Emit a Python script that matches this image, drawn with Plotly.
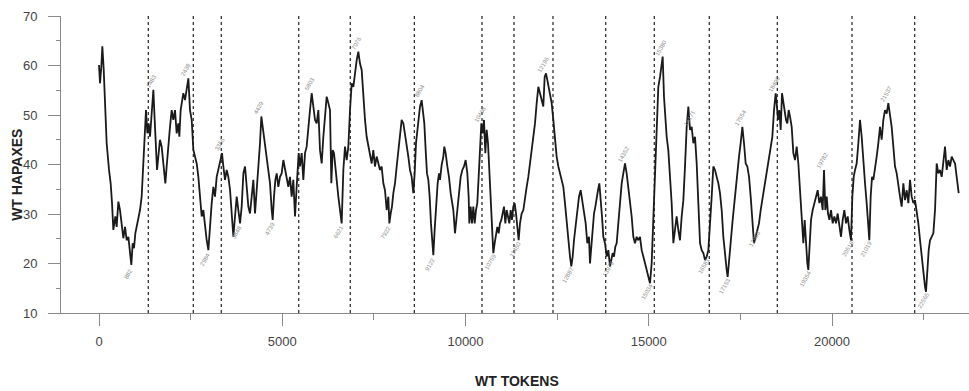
import plotly.graph_objects as go

# ---- data ----
tokens = [0, 27, 64, 91, 127, 164, 209, 273, 318, 355, 391, 418, 446, 482, 528, 573, 618, 664, 710, 755,
          801, 846, 882, 919, 955, 991, 1046, 1119, 1164, 1210, 1255, 1282, 1319, 1355, 1392, 1437, 1483, 1519, 1555, 1583,
          1619, 1664, 1710, 1755, 1810, 1846, 1892, 1937, 1983, 2028, 2074, 2119, 2165, 2192, 2228, 2265, 2301, 2347, 2392, 2438,
          2483, 2529, 2574, 2620, 2665, 2711, 2756, 2802, 2847, 2893, 2938, 2984, 3029, 3075, 3120, 3165, 3211, 3256, 3302, 3356,
          3393, 3438, 3484, 3529, 3575, 3620, 3666, 3711, 3757, 3802, 3848, 3893, 3939, 3984, 4029, 4075, 4120, 4166, 4211, 4257,
          4302, 4348, 4393, 4429, 4466, 4502, 4539, 4575, 4620, 4666, 4712, 4739, 4775, 4812, 4848, 4893, 4939, 4984, 5030, 5075,
          5120, 5166, 5211, 5257, 5302, 5348, 5393, 5448, 5484, 5530, 5575, 5621, 5666, 5712, 5757, 5803, 5848, 5894, 5939, 5985,
          6030, 6076, 6121, 6167, 6212, 6258, 6303, 6339, 6376, 6412, 6449, 6485, 6530, 6576, 6621, 6667, 6712, 6758, 6803, 6849,
          6894, 6940, 6985, 7031, 7076, 7121, 7167, 7212, 7258, 7303, 7349, 7394, 7440, 7485, 7530, 7576, 7621, 7667, 7712, 7758,
          7803, 7849, 7894, 7922, 7958, 7994, 8031, 8076, 8122, 8167, 8213, 8258, 8304, 8349, 8394, 8440, 8485, 8531, 8576, 8613,
          8649, 8685, 8722, 8758, 8804, 8849, 8876, 8913, 8949, 8986, 9022, 9058, 9095, 9122, 9158, 9195, 9240, 9277, 9304, 9349,
          9395, 9422, 9458, 9504, 9549, 9595, 9631, 9668, 9713, 9750, 9786, 9831, 9868, 9913, 9959, 10004, 10050, 10086, 10104, 10141,
          10177, 10213, 10250, 10286, 10322, 10359, 10395, 10432, 10468, 10504, 10541, 10577, 10614, 10650, 10686, 10723, 10759, 10796, 10832, 10868,
          10905, 10941, 10977, 11014, 11050, 11087, 11123, 11159, 11196, 11232, 11268, 11305, 11341, 11378, 11414, 11450, 11487, 11532, 11578, 11623,
          11669, 11714, 11760, 11805, 11851, 11896, 11942, 11987, 12032, 12078, 12123, 12160, 12196, 12232, 12269, 12305, 12351, 12396, 12441, 12487,
          12533, 12578, 12623, 12669, 12714, 12760, 12805, 12851, 12887, 12924, 12960, 13006, 13051, 13097, 13142, 13188, 13233, 13279, 13324, 13370,
          13397, 13433, 13470, 13506, 13543, 13579, 13615, 13652, 13688, 13724, 13761, 13806, 13852, 13897, 13943, 13979, 14015, 14052, 14088, 14124,
          14170, 14215, 14261, 14306, 14352, 14397, 14443, 14488, 14534, 14579, 14625, 14670, 14716, 14761, 14807, 14852, 14897, 14943, 14988, 15034,
          15079, 15125, 15170, 15216, 15261, 15307, 15343, 15380, 15416, 15452, 15489, 15534, 15580, 15625, 15671, 15716, 15761, 15807, 15852, 15898,
          15944, 15989, 16035, 16080, 16126, 16171, 16217, 16262, 16308, 16353, 16399, 16444, 16490, 16535, 16581, 16626, 16671, 16717, 16762, 16808,
          16853, 16899, 16944, 16990, 17035, 17080, 17126, 17153, 17190, 17235, 17281, 17326, 17372, 17417, 17463, 17508, 17554, 17599, 17645, 17690,
          17736, 17781, 17826, 17872, 17917, 17963, 18008, 18054, 18099, 18145, 18190, 18236, 18281, 18327, 18372, 18418, 18463, 18490, 18527, 18563,
          18600, 18636, 18672, 18709, 18745, 18781, 18818, 18854, 18900, 18945, 18991, 19036, 19082, 19127, 19173, 19218, 19254, 19291, 19327, 19354,
          19391, 19427, 19473, 19518, 19564, 19609, 19655, 19700, 19746, 19782, 19818, 19855, 19891, 19928, 19973, 20019, 20064, 20110, 20155, 20201,
          20246, 20292, 20337, 20383, 20428, 20473, 20519, 20555, 20592, 20628, 20673, 20719, 20764, 20810, 20855, 20901, 20946, 20992, 21019, 21055,
          21092, 21128, 21173, 21219, 21264, 21310, 21355, 21401, 21446, 21492, 21537, 21583, 21628, 21674, 21719, 21765, 21810, 21856, 21901, 21947,
          21992, 22038, 22083, 22129, 22174, 22220, 22265, 22311, 22356, 22402, 22447, 22493, 22538, 22565, 22602, 22638, 22675, 22720, 22765, 22811,
          22856, 22902, 22947, 22993, 23038, 23084, 23129, 23175, 23220, 23266, 23311, 23357, 23402, 23457]

hapaxes = [60.1, 56.4, 59.8, 63.9, 59.4, 51.0, 44.3, 38.9, 36.2, 32.2, 26.8, 28.1, 29.5, 27.4, 32.5, 30.8, 28.1, 25.1, 27.4, 24.7,
           25.4, 22.7, 19.7, 24.1, 23.1, 26.1, 28.1, 30.8, 33.5, 40.9, 49.0, 51.0, 46.3, 48.3, 45.6, 51.0, 55.1, 49.0, 43.0, 38.9,
           41.6, 45.0, 43.6, 39.6, 36.2, 39.6, 44.3, 47.6, 51.0, 49.0, 51.0, 46.3, 48.3, 45.6, 51.0, 52.4, 54.4, 53.0, 55.7, 57.4,
           51.0, 49.0, 43.0, 41.6, 40.2, 37.5, 33.5, 29.5, 30.8, 27.4, 24.7, 22.7, 28.1, 32.2, 35.5, 33.5, 37.5, 38.9, 40.9, 42.3,
           39.6, 36.9, 38.9, 37.5, 34.9, 30.8, 25.4, 29.5, 33.5, 30.8, 28.1, 31.5, 38.2, 39.6, 35.5, 31.5, 30.1, 33.5, 36.9, 30.1,
           34.8, 38.9, 44.3, 49.7, 47.6, 46.3, 43.6, 42.3, 39.6, 36.2, 30.8, 28.8, 33.5, 36.9, 38.2, 35.5, 37.5, 38.2, 40.9, 38.9,
           37.5, 35.5, 37.5, 33.5, 36.9, 29.5, 35.5, 42.3, 39.6, 42.3, 36.9, 42.3, 43.6, 48.3, 51.0, 54.4, 51.0, 49.0, 48.3, 51.0,
           42.9, 40.2, 45.6, 50.3, 53.7, 52.4, 51.0, 36.2, 42.9, 42.3, 38.9, 36.9, 33.5, 30.8, 28.1, 38.9, 43.6, 40.9, 43.6, 51.0,
           56.4, 55.7, 59.1, 61.1, 62.8, 60.4, 59.1, 53.7, 49.0, 45.6, 43.6, 42.3, 40.2, 42.9, 39.6, 41.6, 40.2, 38.9, 39.6, 36.2,
           34.8, 30.8, 33.5, 28.1, 30.1, 31.5, 34.2, 36.2, 39.6, 42.9, 47.0, 49.0, 48.3, 46.3, 43.6, 41.6, 38.9, 37.5, 34.2, 38.2,
           44.3, 47.0, 49.7, 51.7, 53.0, 50.3, 48.3, 42.9, 38.2, 36.9, 33.5, 28.1, 24.1, 21.7, 26.8, 32.2, 36.2, 38.2, 36.9, 39.9,
           41.6, 43.6, 42.3, 39.6, 37.5, 34.2, 32.8, 30.8, 26.1, 28.8, 32.8, 34.8, 37.5, 38.9, 39.6, 40.9, 38.2, 33.5, 28.1, 31.5,
           28.1, 31.5, 28.1, 30.8, 32.2, 37.5, 44.3, 48.3, 46.3, 49.0, 42.3, 47.0, 44.3, 38.2, 32.2, 25.4, 22.1, 24.1, 25.4, 27.4,
           26.1, 28.1, 28.8, 30.1, 31.5, 28.1, 30.8, 29.5, 28.1, 30.8, 28.8, 31.5, 32.2, 30.1, 27.4, 24.7, 28.1, 30.1, 30.8, 33.5,
           35.5, 37.5, 40.2, 42.9, 45.0, 48.3, 52.4, 55.7, 54.4, 53.0, 51.7, 57.7, 58.4, 57.1, 55.7, 53.7, 52.4, 49.0, 44.3, 41.6,
           39.6, 38.2, 36.9, 35.5, 32.2, 28.1, 24.1, 21.4, 19.4, 21.4, 24.7, 28.1, 31.5, 33.5, 34.8, 32.8, 30.8, 28.1, 24.1, 25.4,
           20.0, 24.1, 27.4, 30.1, 31.5, 33.5, 34.8, 36.2, 33.5, 29.5, 25.4, 24.1, 21.4, 22.7, 19.4, 20.7, 22.1, 21.4, 23.4, 24.1,
           28.1, 33.5, 36.2, 38.2, 40.2, 38.2, 35.5, 32.2, 29.5, 25.4, 24.1, 25.4, 24.7, 25.4, 22.7, 21.4, 20.0, 18.7, 17.3, 16.0,
           20.0, 29.5, 40.9, 49.7, 55.7, 57.7, 60.4, 61.8, 53.7, 49.7, 45.6, 42.9, 37.5, 32.2, 24.1, 27.4, 29.5, 26.8, 24.7, 29.5,
           32.8, 39.6, 47.6, 51.7, 47.0, 47.6, 44.3, 45.6, 40.2, 32.2, 24.1, 22.7, 22.1, 20.7, 21.4, 22.7, 27.4, 33.5, 39.6, 38.9,
           37.5, 36.2, 34.2, 30.8, 25.4, 21.4, 18.7, 17.3, 20.0, 24.1, 28.1, 31.5, 35.5, 38.9, 41.6, 44.3, 47.6, 44.3, 40.2, 39.6,
           37.5, 33.5, 28.1, 24.1, 25.4, 26.8, 28.1, 30.8, 32.8, 34.8, 37.5, 38.9, 40.9, 42.9, 45.6, 51.0, 54.4, 52.4, 49.0, 51.0,
           47.0, 54.4, 52.4, 50.3, 49.0, 48.3, 51.0, 49.7, 47.6, 42.3, 40.9, 43.6, 40.2, 34.8, 30.1, 24.1, 28.8, 23.4, 20.0, 18.7,
           24.7, 28.8, 30.8, 32.2, 33.5, 34.8, 32.2, 33.5, 30.8, 38.9, 30.8, 33.5, 30.1, 28.8, 30.8, 28.1, 29.5, 28.1, 30.1, 27.4,
           25.4, 28.8, 30.8, 28.1, 29.5, 26.8, 24.7, 33.5, 37.5, 38.9, 40.2, 44.3, 49.0, 45.6, 40.2, 36.2, 32.2, 28.1, 24.7, 33.5,
           37.5, 36.9, 38.9, 41.6, 44.3, 47.6, 45.0, 49.0, 51.0, 50.3, 52.4, 50.3, 47.6, 43.6, 39.6, 38.2, 35.5, 33.5, 31.5, 36.2,
           32.8, 34.8, 32.2, 36.9, 33.5, 32.2, 32.8, 30.8, 28.1, 24.7, 21.4, 18.0, 15.3, 14.3, 18.7, 22.7, 24.7, 25.4, 26.1, 30.8,
           40.2, 38.2, 38.9, 37.5, 40.2, 43.6, 38.9, 40.9, 39.6, 41.6, 40.9, 40.2, 37.5, 34.2]

# section boundaries (dotted verticals)
boundaries = [1345, 2573, 3337, 5449, 6857, 8604, 10450, 11323, 12387, 13825, 15152,
              16652, 18508, 20546, 22256]

# small marker labels at local peaks / troughs
peak_tokens = [1483, 2438, 3356, 4429, 5803, 7076, 8804, 10468, 12196, 14352, 15380, 16171,
               17554, 18490, 19782, 21537]
peak_values = [55.1, 57.4, 42.3, 49.7, 54.4, 62.8, 53.0, 48.3, 58.4, 40.2, 61.8, 47.6,
               47.6, 54.4, 38.9, 52.4]
trough_tokens = [882, 2984, 3848, 4739, 6621, 7922, 9122, 10759, 11450, 12887, 13979, 15034,
                 16581, 17153, 17963, 19354, 20519, 21019, 22565]
trough_values = [19.7, 22.7, 28.1, 28.8, 28.1, 28.1, 21.7, 22.1, 24.7, 19.4, 20.7, 16.0,
                 21.4, 17.3, 26.8, 18.7, 24.7, 24.7, 14.3]

x_tick_vals = [0, 5000, 10000, 15000, 20000]
y_tick_vals = [10, 20, 30, 40, 50, 60, 70]

AX = "#8a8a8a"
TXT = "#444444"
FONT = "Liberation Sans, Arial, sans-serif"

fig = go.Figure()

for b in boundaries:
    fig.add_shape(type="line", xref="x", yref="y", x0=b, x1=b, y0=10, y1=70,
                  line=dict(color="#333333", width=1.3, dash="dot"), layer="below")

fig.add_trace(go.Scatter(x=tokens, y=hapaxes, mode="lines",
                         line=dict(color="#1a1a1a", width=1.8), showlegend=False,
                         hoverinfo="x+y"))

annotations = []
for t, v in zip(peak_tokens, peak_values):
    annotations.append(dict(x=t, y=v, xref="x", yref="y", text=str(t), showarrow=False,
                            textangle=-60, font=dict(size=6, color="#909090", family=FONT),
                            yshift=9, xshift=-2))
for t, v in zip(trough_tokens, trough_values):
    annotations.append(dict(x=t, y=v, xref="x", yref="y", text=str(t), showarrow=False,
                            textangle=-60, font=dict(size=6, color="#909090", family=FONT),
                            yshift=-9, xshift=-3))

annotations.append(dict(text="<b>WT TOKENS</b>", xref="paper", yref="paper", x=0.502, y=-0.229,
                        xanchor="center", yanchor="middle",
                        showarrow=False, font=dict(size=14, color="#222222", family=FONT)))
annotations.append(dict(text="<b>WT HAPAXES</b>", xref="paper", yref="paper", x=-0.0485, y=0.465,
                        xanchor="center", yanchor="middle",
                        showarrow=False, textangle=-90,
                        font=dict(size=14, color="#222222", family=FONT)))

fig.update_layout(
    width=969, height=391,
    margin=dict(l=61, r=0, t=16, b=78),
    paper_bgcolor="white", plot_bgcolor="white",
    font=dict(family=FONT, color=TXT, size=13),
    annotations=annotations,
    showlegend=False,
)

fig.update_xaxes(range=[-1037, 23738], showgrid=False, zeroline=False,
                 showline=True, linecolor=AX, linewidth=1,
                 tickmode="array", tickvals=x_tick_vals, ticktext=[str(v) for v in x_tick_vals],
                 ticks="outside", ticklen=12, tickcolor=AX, tickwidth=1,
                 minor=dict(tickmode="array", tickvals=[2500, 7500, 12500, 17500, 22500],
                            ticks="outside", ticklen=6, tickcolor=AX, tickwidth=1),
                 tickfont=dict(size=13, color=TXT), ticklabelstandoff=4)

fig.update_yaxes(range=[10, 70], showgrid=False, zeroline=False,
                 showline=True, linecolor=AX, linewidth=1,
                 tickmode="array", tickvals=y_tick_vals, ticktext=[str(v) for v in y_tick_vals],
                 ticks="outside", ticklen=12, tickcolor=AX, tickwidth=1,
                 minor=dict(tickmode="array", tickvals=[15, 25, 35, 45, 55, 65],
                            ticks="outside", ticklen=4, tickcolor=AX, tickwidth=1),
                 tickfont=dict(size=13, color=TXT), ticklabelstandoff=8)

fig.write_html("out.html")
